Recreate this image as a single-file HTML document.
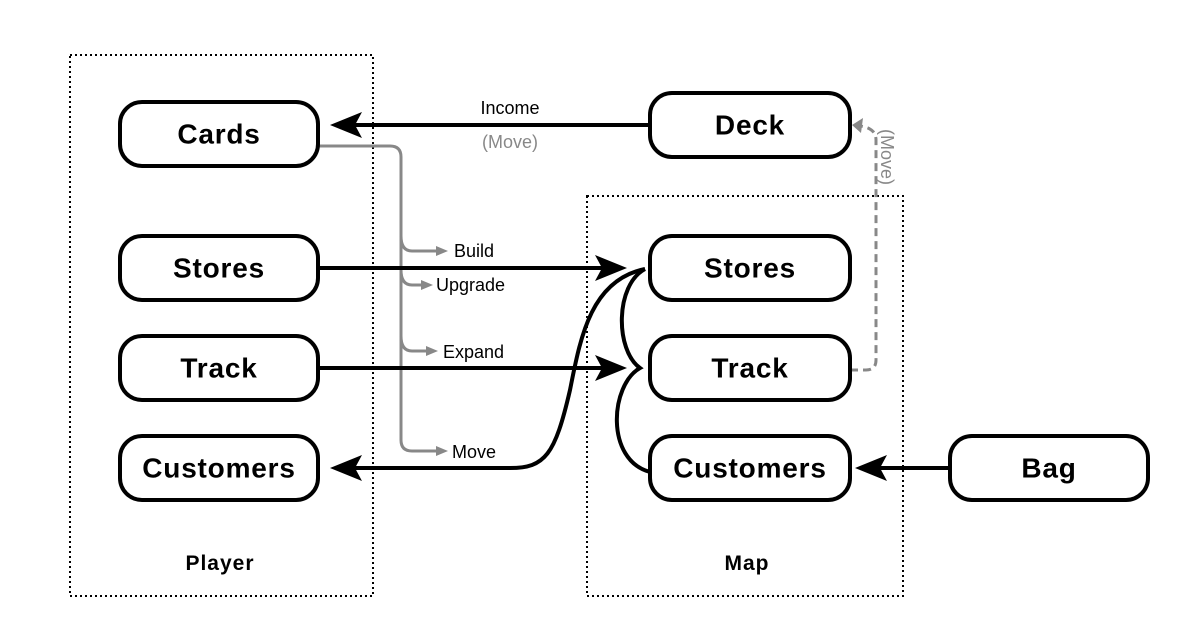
<!DOCTYPE html>
<html><head><style>
body{margin:0;background:#fff;}
svg{display:block;font-family:"Liberation Sans",sans-serif;}
.n{fill:#fff;stroke:#000;stroke-width:4;}
.t{font-weight:bold;font-size:28px;letter-spacing:0.8px;text-anchor:middle;dominant-baseline:central;}
.l{font-size:18px;}
</style></head><body>
<svg width="1191" height="638" viewBox="0 0 1191 638">
<rect x="70" y="55" width="303" height="541" fill="none" stroke="#000" stroke-width="2" stroke-dasharray="2,3"/>
<rect x="587" y="196" width="316" height="400" fill="none" stroke="#000" stroke-width="2" stroke-dasharray="2,3"/>

<g stroke="#888" stroke-width="3" fill="none">
<path d="M318,146 H390 Q401,146 401,157 V440 Q401,451 412,451 H440"/>
<path d="M401,236 Q401,251 412,251 H440"/>
<path d="M401,270 Q401,285 412,285 H425"/>
<path d="M401,336 Q401,351 412,351 H430"/>
</g>
<g fill="#888">
<polygon points="448,251 436,246 436,256"/>
<polygon points="433,285 421,280 421,290"/>
<polygon points="438,351 426,346 426,356"/>
<polygon points="448,451 436,446 436,456"/>
</g>
<path d="M850,370 H866 Q876,370 876,360 V140 Q876,128 860,126" fill="none" stroke="#888" stroke-width="3" stroke-dasharray="8,5"/>
<polygon points="852,125 863,118 861,133" fill="#888"/>
<text x="881" y="129" fill="#888" font-size="18" transform="rotate(90 881 129)">(Move)</text>

<g stroke="#000" stroke-width="4" fill="none">
<path d="M650,125 H350"/>
<path d="M318,268 H605"/>
<path d="M318,368 H605"/>
<path d="M645,269 C590,280 580,340 570,390 C555,455 545,468 510,468 H350"/>
<path d="M645,269 C615,285 615,350 640,368 C610,385 605,460 650,472"/>
<path d="M950,468 H880"/>
</g>
<g fill="#000">
<polygon points="330,125 362,112 355,125 362,138"/>
<polygon points="627,268 595,255 602,268 595,281"/>
<polygon points="627,368 595,355 602,368 595,381"/>
<polygon points="330,468 362,455 355,468 362,481"/>
<polygon points="855,468 887,455 880,468 887,481"/>
</g>

<rect class="n" x="120" y="102" width="198" height="64" rx="22"/>
<rect class="n" x="120" y="236" width="198" height="64" rx="22"/>
<rect class="n" x="120" y="336" width="198" height="64" rx="22"/>
<rect class="n" x="120" y="436" width="198" height="64" rx="22"/>
<rect class="n" x="650" y="93" width="200" height="64" rx="22"/>
<rect class="n" x="650" y="236" width="200" height="64" rx="22"/>
<rect class="n" x="650" y="336" width="200" height="64" rx="22"/>
<rect class="n" x="650" y="436" width="200" height="64" rx="22"/>
<rect class="n" x="950" y="436" width="198" height="64" rx="22"/>
<text class="t" x="219" y="134">Cards</text>
<text class="t" x="219" y="268">Stores</text>
<text class="t" x="219" y="368">Track</text>
<text class="t" x="219" y="468">Customers</text>
<text class="t" x="750" y="125">Deck</text>
<text class="t" x="750" y="268">Stores</text>
<text class="t" x="750" y="368">Track</text>
<text class="t" x="750" y="468">Customers</text>
<text class="t" x="1049" y="468">Bag</text>

<text class="l" x="510" y="114" text-anchor="middle">Income</text>
<text class="l" x="510" y="148" text-anchor="middle" fill="#888">(Move)</text>
<text class="l" x="454" y="257">Build</text>
<text class="l" x="436" y="291">Upgrade</text>
<text class="l" x="443" y="358">Expand</text>
<text class="l" x="452" y="458">Move</text>
<text x="220" y="570" font-size="21" letter-spacing="1" font-weight="bold" text-anchor="middle">Player</text>
<text x="747" y="570" font-size="21" letter-spacing="1" font-weight="bold" text-anchor="middle">Map</text>
</svg>
</body></html>
